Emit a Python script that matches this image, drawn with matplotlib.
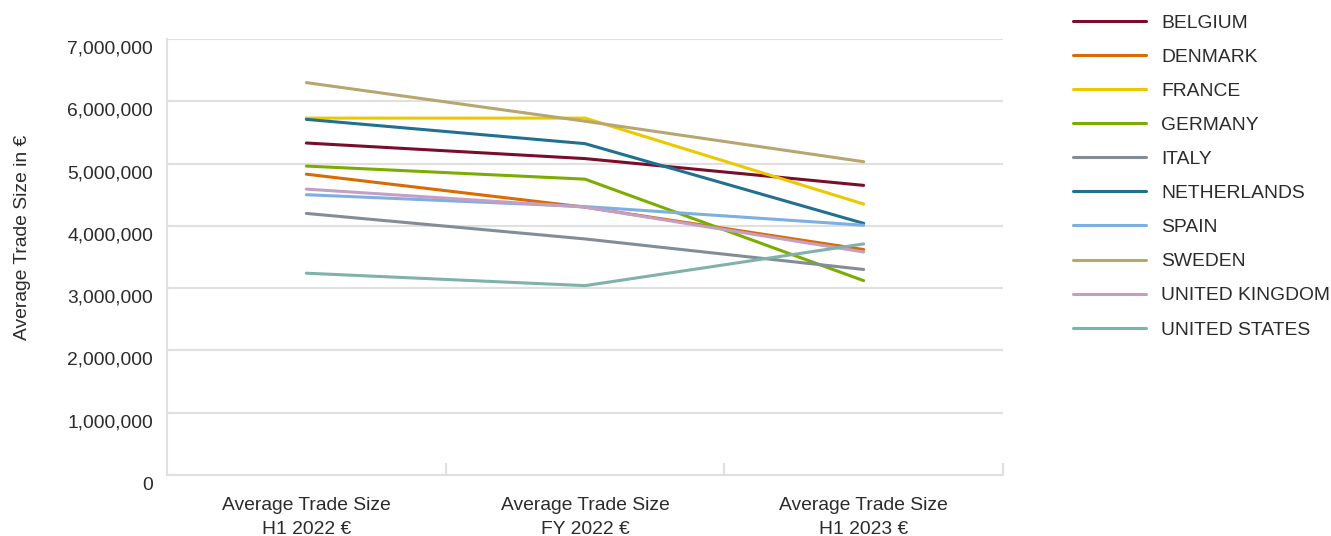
import matplotlib
matplotlib.use("Agg")
import matplotlib.pyplot as plt
import matplotlib.transforms as mtransforms
from matplotlib.ticker import FuncFormatter, FixedLocator

periods = ["Average Trade Size\nH1 2022 €", "Average Trade Size\nFY 2022 €", "Average Trade Size\nH1 2023 €"]

countries = ["BELGIUM", "DENMARK", "FRANCE", "GERMANY", "ITALY",
             "NETHERLANDS", "SPAIN", "SWEDEN", "UNITED KINGDOM", "UNITED STATES"]

belgium = [5330000, 5080000, 4650000]
denmark = [4830000, 4300000, 3620000]
france = [5730000, 5730000, 4350000]
germany = [4960000, 4750000, 3120000]
italy = [4200000, 3790000, 3300000]
netherlands = [5710000, 5320000, 4040000]
spain = [4500000, 4310000, 4010000]
sweden = [6300000, 5680000, 5030000]
united_kingdom = [4590000, 4300000, 3580000]
united_states = [3240000, 3040000, 3710000]

series = [belgium, denmark, france, germany, italy,
          netherlands, spain, sweden, united_kingdom, united_states]

colors = ["#7b0d2c", "#d96b00", "#ebc800", "#7bad00", "#828d97",
          "#22708f", "#7dafe4", "#b7a670", "#c59ec6", "#80b2aa"]

FONT = "Liberation Sans"
FS = 13.9
TEXT = "#2b2b2b"
GRID = "#e0e0e0"

plt.rcParams["font.family"] = [FONT, "DejaVu Sans"]

fig = plt.figure(figsize=(13.31, 5.36), dpi=100)
ax = fig.add_axes([167 / 1331, 1 - 475 / 536, 836 / 1331, 436 / 536])

x = list(range(len(periods)))
for name, vals, c in zip(countries, series, colors):
    ax.plot(x, vals, color=c, lw=2.2, label=name, solid_capstyle="round", zorder=3)

ax.set_xlim(-0.5, len(periods) - 0.5)
ax.set_ylim(0, 7000000)
ax.set_yticks(range(0, 7000001, 1000000))
ax.yaxis.set_major_formatter(FuncFormatter(lambda v, p: f"{int(v):,}"))
ax.grid(axis="y", color=GRID, lw=1.5, zorder=0)
ax.set_axisbelow(True)

ax.set_xticks(x)
ax.set_xticklabels(periods, linespacing=1.5)
ax.xaxis.set_minor_locator(FixedLocator([0.5, 1.5, 2.5]))
ax.tick_params(axis="x", which="major", length=0, pad=16, labelsize=FS, labelcolor=TEXT)
ax.tick_params(axis="x", which="minor", direction="in", length=9, width=1.5, color=GRID)
ax.tick_params(axis="y", length=0, pad=10, labelsize=FS, labelcolor=TEXT)

# nudge the y tick labels just below their gridlines
offset = mtransforms.ScaledTranslation(0, -8 / 100, fig.dpi_scale_trans)
for lab in ax.get_yticklabels():
    lab.set_transform(lab.get_transform() + offset)

for side in ["top", "right"]:
    ax.spines[side].set_visible(False)
for side in ["left", "bottom"]:
    ax.spines[side].set_color(GRID)
    ax.spines[side].set_linewidth(1.5)

ax.set_ylabel("Average Trade Size in €", fontsize=FS, color=TEXT)
ax.yaxis.set_label_coords((31 - 167) / 836, (475 - 237) / 436)

fig.legend(loc="upper left", bbox_to_anchor=(1073 / 1331, 1 - 14 / 536),
           frameon=False, fontsize=FS, labelcolor=TEXT, handlelength=3.78,
           handletextpad=0.78, labelspacing=0.86, borderpad=0, borderaxespad=0)

fig.savefig("out.png", dpi=100)
